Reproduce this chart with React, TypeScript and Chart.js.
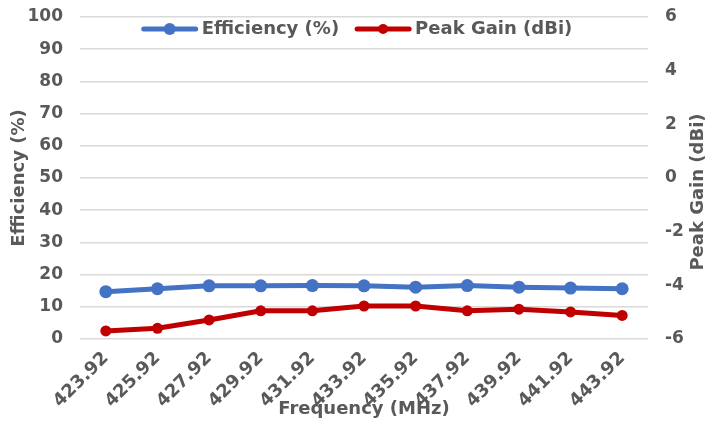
import React, { useEffect, useRef } from 'react';
import { Chart, registerables } from 'chart.js';

Chart.register(...registerables);

// ---- data ----
const frequencies = ['423.92', '425.92', '427.92', '429.92', '431.92', '433.92', '435.92', '437.92', '439.92', '441.92', '443.92'];
const efficiency = [14.7, 15.6, 16.5, 16.5, 16.6, 16.5, 16.1, 16.6, 16.1, 15.8, 15.6];
const peakGain = [-5.7, -5.6, -5.29, -4.95, -4.95, -4.77, -4.77, -4.95, -4.89, -4.99, -5.12];
const seriesNames = ['Efficiency (%)', 'Peak Gain (dBi)'];
const seriesColors = ['#4472C4', '#C00000'];
const efficiencyRange = [0, 100, 10];
const gainRange = [-6, 6, 2];
const xTitle = 'Frequency (MHz)';
const yLeftTitle = 'Efficiency (%)';
const yRightTitle = 'Peak Gain (dBi)';

const TEXT = '#595959';
const FONT = 'DejaVu Sans';

const legendPlugin = {
  id: 'customLegend',
  afterDraw(chart: any) {
    const { ctx, chartArea } = chart;
    ctx.save();
    ctx.font = `bold 18px "${FONT}"`;
    const lineLen = 56;
    const gapText = 4;
    const gapItem = 16;
    const ds = chart.data.datasets;
    const widths = ds.map((d: any) => lineLen + gapText + ctx.measureText(d.label).width);
    const total = widths.reduce((a: number, b: number) => a + b, 0) + gapItem * (ds.length - 1);
    let x = (chartArea.left + chartArea.right) / 2 - 7 - total / 2;
    const y = chartArea.top + 12;
    ds.forEach((d: any, i: number) => {
      ctx.strokeStyle = d.borderColor;
      ctx.lineWidth = 5;
      ctx.lineCap = 'round';
      ctx.beginPath();
      ctx.moveTo(x + 2, y);
      ctx.lineTo(x + lineLen - 2, y);
      ctx.stroke();
      ctx.fillStyle = d.borderColor;
      ctx.beginPath();
      ctx.arc(x + lineLen / 2, y, d.pointRadius - 0.5, 0, Math.PI * 2);
      ctx.fill();
      ctx.fillStyle = TEXT;
      ctx.textAlign = 'left';
      ctx.textBaseline = 'middle';
      ctx.fillText(d.label, x + lineLen + gapText, y);
      x += widths[i] + gapItem;
    });
    ctx.restore();
  },
};

const rightTitlePlugin = {
  id: 'rightTitle',
  afterDraw(chart: any) {
    const { ctx, chartArea } = chart;
    ctx.save();
    ctx.font = `bold 18px "${FONT}"`;
    ctx.fillStyle = TEXT;
    ctx.textAlign = 'center';
    ctx.textBaseline = 'middle';
    ctx.translate(chartArea.right + 50, (chartArea.top + chartArea.bottom) / 2 + 14);
    ctx.rotate(-Math.PI / 2);
    ctx.fillText(yRightTitle, 0, 0);
    ctx.restore();
  },
};

export default function App() {
  const ref = useRef<HTMLCanvasElement | null>(null);

  useEffect(() => {
    if (!ref.current) return;
    const tickFont = { family: FONT, size: 17, weight: 'bold' as const, lineHeight: 1 };
    const xTickFont = { family: FONT, size: 18, weight: 'bold' as const, lineHeight: 1 };
    const titleFont = { family: FONT, size: 18, weight: 'bold' as const, lineHeight: 1 };
    const trimPadding = (s: any) => {
      s.paddingTop = 8;
      s.paddingBottom = 8;
    };
    const chart = new Chart(ref.current, {
      type: 'line',
      data: {
        labels: frequencies,
        datasets: [
          {
            label: seriesNames[0],
            data: efficiency,
            yAxisID: 'y',
            borderColor: seriesColors[0],
            backgroundColor: seriesColors[0],
            borderWidth: 5,
            pointRadius: 6.5,
            pointBorderWidth: 0,
            pointBackgroundColor: seriesColors[0],
            tension: 0,
          },
          {
            label: seriesNames[1],
            data: peakGain,
            yAxisID: 'y1',
            borderColor: seriesColors[1],
            backgroundColor: seriesColors[1],
            borderWidth: 5,
            pointRadius: 5.5,
            pointBorderWidth: 0,
            pointBackgroundColor: seriesColors[1],
            tension: 0,
          },
        ],
      },
      options: {
        animation: false,
        responsive: true,
        maintainAspectRatio: false,
        layout: { padding: { top: 9, left: 0, right: 0, bottom: 0 } },
        plugins: {
          legend: { display: false },
          tooltip: { enabled: false },
        },
        scales: {
          x: {
            type: 'category',
            offset: true,
            grid: { display: false, drawTicks: false },
            border: { display: false },
            ticks: {
              autoSkip: false,
              maxRotation: 45,
              minRotation: 45,
              padding: 10,
              color: TEXT,
              font: xTickFont,
            },
            title: {
              display: true,
              text: xTitle,
              color: TEXT,
              font: titleFont,
              padding: { top: 0, bottom: 0 },
            },
            afterFit: (s: any) => {
              s.height = 79;
            },
          },
          y: {
            position: 'left',
            min: efficiencyRange[0],
            max: efficiencyRange[1],
            grid: { color: '#D9D9D9', lineWidth: 1.5, drawTicks: false },
            border: { display: false },
            ticks: { stepSize: efficiencyRange[2], padding: 17, color: TEXT, font: tickFont },
            title: {
              display: true,
              text: yLeftTitle,
              color: TEXT,
              font: titleFont,
              padding: { top: 2, bottom: 0 },
            },
            afterFit: (s: any) => {
              s.width = 72;
              trimPadding(s);
            },
          },
          y1: {
            position: 'right',
            min: gainRange[0],
            max: gainRange[1],
            grid: { display: false, drawTicks: false },
            border: { display: false },
            ticks: { stepSize: gainRange[2], padding: 17, color: TEXT, font: tickFont },
            afterFit: (s: any) => {
              s.width = 70;
              trimPadding(s);
            },
          },
        },
      },
      plugins: [legendPlugin, rightTitlePlugin],
    });
    return () => chart.destroy();
  }, []);

  return (
    <div style={{ position: 'relative', width: '710px', height: '410px' }}>
      <canvas ref={ref} />
    </div>
  );
}
